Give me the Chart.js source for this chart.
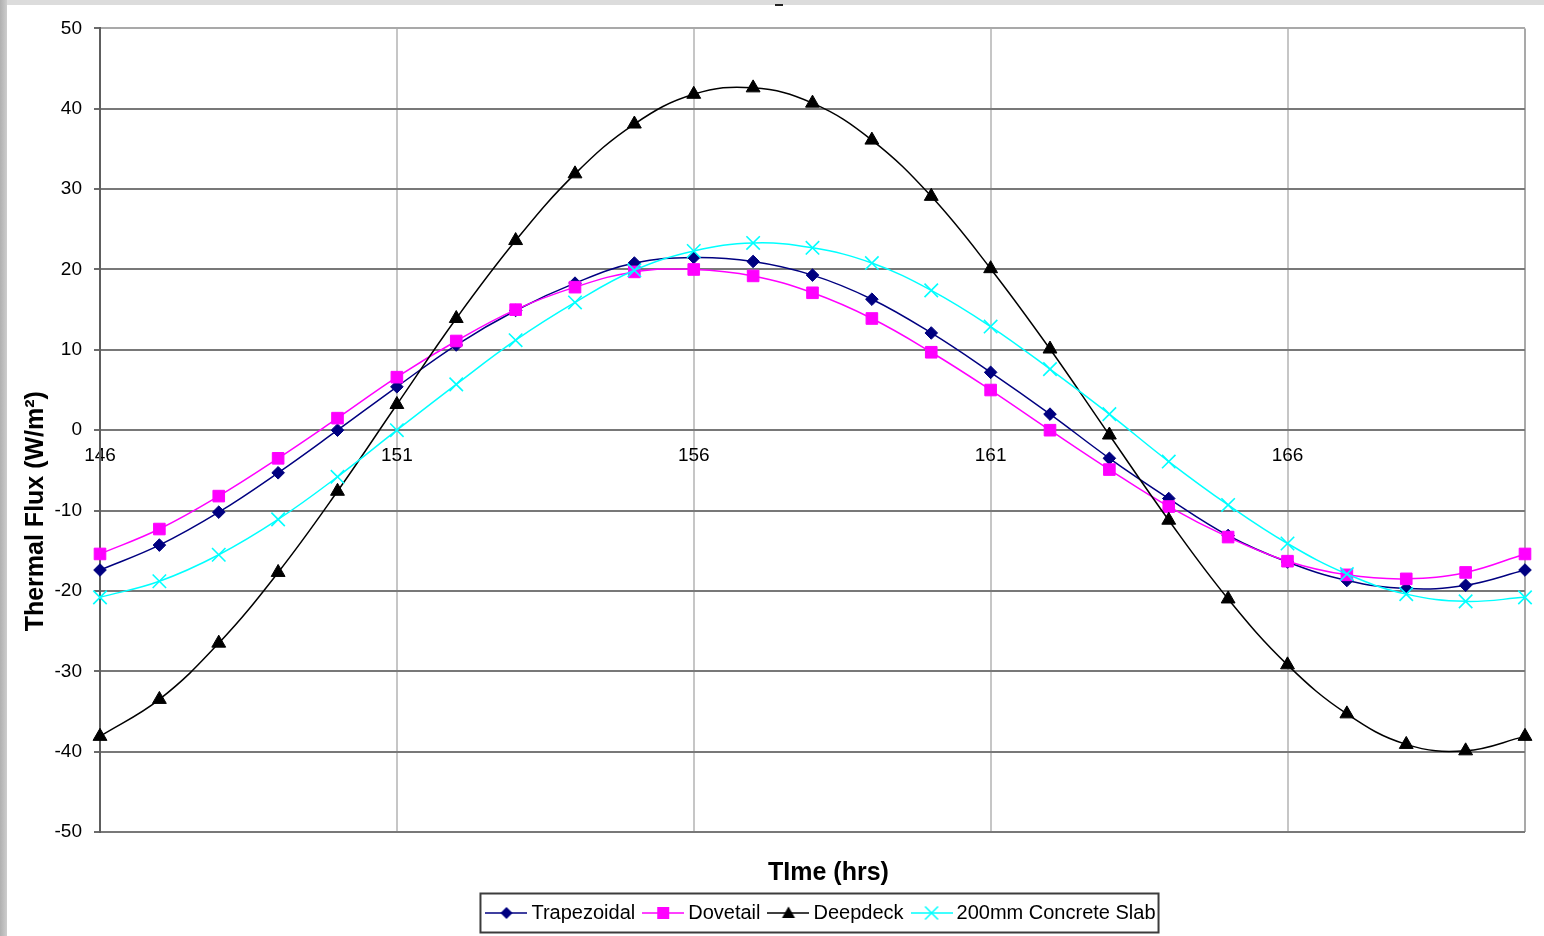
<!DOCTYPE html>
<html>
<head>
<meta charset="utf-8">
<script src="https://cdn.jsdelivr.net/npm/chart.js@4/dist/chart.umd.min.js"></script>
<style>
html,body{margin:0;padding:0;background:#dcdcdc;width:1544px;height:936px;overflow:hidden;}
#leftbar{position:absolute;left:0;top:0;width:7px;height:936px;background:linear-gradient(to right,#b0b0b0,#cdcdcd);}
#wrap{position:absolute;left:7px;top:5px;width:1537px;height:931px;background:#ffffff;}
#dash{position:absolute;left:775px;top:4px;width:8px;height:2px;background:#222;}
</style>
</head>
<body>
<div id="leftbar"></div>
<div id="wrap"><canvas id="c"></canvas></div>
<div id="dash"></div>
<script>
// ---- data ----
const time = [146,147,148,149,150,151,152,153,154,155,156,157,158,159,160,161,162,163,164,165,166,167,168,169,170];
const trapezoidal = [-17.4,-14.3,-10.2,-5.3,0.0,5.4,10.6,14.9,18.3,20.8,21.5,21.0,19.3,16.3,12.1,7.2,2.0,-3.5,-8.5,-13.1,-16.4,-18.7,-19.7,-19.3,-17.4];
const dovetail    = [-15.4,-12.3,-8.2,-3.5,1.5,6.6,11.1,15.0,17.8,19.7,20.0,19.2,17.1,13.9,9.7,5.0,0.0,-4.9,-9.5,-13.3,-16.3,-18.0,-18.5,-17.7,-15.4];
const deepdeck    = [-38.1,-33.5,-26.5,-17.7,-7.6,3.2,13.9,23.6,31.9,38.1,41.8,42.6,40.7,36.1,29.1,20.1,10.1,-0.6,-11.2,-21.0,-29.2,-35.3,-39.1,-39.9,-38.1];
const concreteSlab= [-20.8,-18.8,-15.5,-11.1,-5.8,0.0,5.7,11.2,15.9,19.9,22.3,23.3,22.7,20.8,17.4,12.9,7.6,2.0,-3.9,-9.3,-14.1,-17.9,-20.4,-21.3,-20.8];
const seriesNames = ['Trapezoidal','Dovetail','Deepdeck','200mm Concrete Slab'];
const xTickValues = [146,151,156,161,166];
const xMin = 146, xMax = 170;
const yMin = -50, yMax = 50, yStep = 10;
const xTitle = 'TIme (hrs)';
const yTitle = 'Thermal Flux (W/m\u00B2)';

// ---- styling ----
const FONT = '"Liberation Sans", Arial, sans-serif';
Chart.defaults.font.family = FONT;
Chart.defaults.color = '#000';

function toPoints(arr){ return arr.map((v,i)=>({x:time[i], y:v})); }

function makeIcon(color, shape){
  const c = document.createElement('canvas');
  c.width = 42; c.height = 18;
  const g = c.getContext('2d');
  g.strokeStyle = color; g.lineWidth = 1.5;
  g.beginPath(); g.moveTo(0,9); g.lineTo(42,9); g.stroke();
  const cx = 21, cy = 9;
  g.fillStyle = color;
  g.beginPath();
  if (shape === 'diamond'){
    g.moveTo(cx,cy-6); g.lineTo(cx+6,cy); g.lineTo(cx,cy+6); g.lineTo(cx-6,cy); g.closePath(); g.fill();
  } else if (shape === 'square'){
    g.rect(cx-6,cy-6,12,12); g.fill();
  } else if (shape === 'triangle'){
    g.moveTo(cx,cy-6.5); g.lineTo(cx+6.5,cy+5); g.lineTo(cx-6.5,cy+5); g.closePath(); g.fill();
  } else {
    g.lineWidth = 1.5;
    g.moveTo(cx-6.5,cy-6.5); g.lineTo(cx+6.5,cy+6.5); g.moveTo(cx+6.5,cy-6.5); g.lineTo(cx-6.5,cy+6.5); g.stroke();
  }
  return c;
}

const colors = ['#000080','#ff00ff','#000000','#00ffff'];
const icons = [makeIcon(colors[0],'diamond'), makeIcon(colors[1],'square'), makeIcon(colors[2],'triangle'), makeIcon(colors[3],'cross')];

const LEGEND_SHIFT = 11;
const legendBoxPlugin = {
  id: 'legendBox',
  afterLayout(chart){
    const lg = chart.legend;
    if (lg) { lg.left += LEGEND_SHIFT; lg.right += LEGEND_SHIFT; }
  },
  afterDraw(chart){
    const lg = chart.legend;
    if (!lg || !lg.legendHitBoxes || !lg.legendHitBoxes.length) return;
    const hb = lg.legendHitBoxes;
    let minL = Infinity, maxR = -Infinity;
    hb.forEach(h => { minL = Math.min(minL, h.left); maxR = Math.max(maxR, h.left + h.width); });
    const cy = hb[0].top + hb[0].height/2;
    const ctx = chart.ctx;
    ctx.save();
    ctx.strokeStyle = '#3c3c3c';
    ctx.lineWidth = 2;
    ctx.strokeRect(minL - 11, cy - 19.5, (maxR + 3) - (minL - 11), 39);
    ctx.restore();
  }
};

const axisTitlePlugin = {
  id: 'axisTitles',
  afterDraw(chart){
    const ca = chart.chartArea;
    const ctx = chart.ctx;
    ctx.save();
    ctx.fillStyle = '#000';
    ctx.textAlign = 'center';
    ctx.textBaseline = 'middle';
    ctx.font = 'bold 25px ' + FONT;
    ctx.fillText(xTitle, (ca.left + ca.right)/2 + 16, ca.bottom + 41);
    ctx.translate(29, (ca.top + ca.bottom)/2 + 81);
    ctx.rotate(-Math.PI/2);
    ctx.font = 'bold 25px ' + FONT;
    ctx.fillText(yTitle, 0, 0);
    ctx.restore();
  }
};

const seriesData = [trapezoidal, dovetail, deepdeck, concreteSlab];
const pointStyles = ['rectRot','rect','triangle','crossRot'];
const pointRadii = [6.3, 8.2, 8, 9.5];
const orders = [4,3,2,1];

const datasets = seriesData.map((arr,i)=>({
  label: seriesNames[i],
  data: toPoints(arr),
  borderColor: colors[i],
  backgroundColor: colors[i],
  borderWidth: 1.5,
  tension: 0.4,
  pointStyle: pointStyles[i],
  pointRadius: pointRadii[i],
  pointBorderWidth: i === 3 ? 1.6 : 1,
  pointBackgroundColor: colors[i],
  pointBorderColor: colors[i],
  order: orders[i],
  clip: false
}));

new Chart(document.getElementById('c'), {
  type: 'line',
  data: { datasets },
  options: {
    responsive: true,
    maintainAspectRatio: false,
    animation: false,
    events: [],
    layout: { padding: { top: 23, right: 19, bottom: 3, left: 0 } },
    scales: {
      x: {
        type: 'linear', position: 'bottom', min: xMin, max: xMax,
        afterBuildTicks: s => { s.ticks = xTickValues.concat([xMax]).map(v => ({value: v})); },
        ticks: { display: false },
        grid: {
          color: c => c.tick && c.tick.value === xMin ? 'rgba(0,0,0,0)' : (c.tick && c.tick.value === xMax ? '#a9a9a9' : '#c6c6c6'),
          lineWidth: 2, drawTicks: false
        },
        border: { display: false },
        afterFit: s => { s.height = 58; }
      },
      x2: {
        type: 'linear', axis: 'x', position: { y: 0 }, min: xMin, max: xMax,
        afterBuildTicks: s => { s.ticks = xTickValues.map(v => ({value: v})); },
        grid: { display: false, drawTicks: false },
        border: { display: false },
        ticks: { font: { size: 19 }, color: '#000', padding: 14, maxRotation: 0, autoSkip: false }
      },
      y: {
        type: 'linear', min: yMin, max: yMax,
        ticks: { stepSize: yStep, font: { size: 19 }, color: '#000', padding: 12 },
        grid: {
          color: c => c.tick && c.tick.value === yMax ? '#a9a9a9' : '#787878',
          lineWidth: 2, tickLength: 6, tickColor: '#6a6a6a'
        },
        border: { color: '#5e5e5e', width: 2 },
        afterFit: s => { s.width = 93; }
      }
    },
    plugins: {
      tooltip: { enabled: false },
      legend: {
        position: 'bottom',
        fullSize: false,
        labels: {
          font: { size: 20 },
          color: '#000',
          usePointStyle: true,
          pointStyleWidth: 30,
          padding: 13,
          generateLabels: chart => chart.data.datasets.map((ds,i) => ({
            text: ds.label, pointStyle: icons[i], datasetIndex: i, hidden: false,
            lineWidth: 0, strokeStyle: 'rgba(0,0,0,0)', fillStyle: 'rgba(0,0,0,0)', fontColor: '#000'
          }))
        }
      }
    }
  },
  plugins: [legendBoxPlugin, axisTitlePlugin]
});
</script>
</body>
</html>
